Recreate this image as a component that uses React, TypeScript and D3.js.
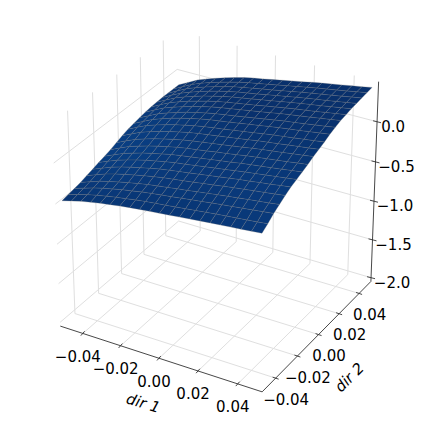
import React from "react";
import * as d3 from "d3";

const gridX = [-0.05,-0.045,-0.04,-0.035,-0.03,-0.025,-0.02,-0.015,-0.01,-0.005,0,0.005,0.01,0.015,0.02,0.025,0.03,0.035,0.04,0.045,0.05];
const gridY = gridX;
const zRows: number[][] = [
[-.47,-.438,-.407,-.383,-.361,-.342,-.324,-.308,-.294,-.282,-.27,-.257,-.245,-.232,-.219,-.207,-.196,-.185,-.174,-.162,-.15],
[-.455,-.419,-.386,-.359,-.335,-.313,-.295,-.276,-.26,-.247,-.234,-.22,-.206,-.192,-.178,-.164,-.152,-.139,-.127,-.114,-.1],
[-.44,-.401,-.363,-.333,-.307,-.282,-.261,-.24,-.222,-.207,-.192,-.176,-.16,-.145,-.128,-.113,-.099,-.085,-.07,-.055,-.04],
[-.425,-.383,-.342,-.31,-.281,-.255,-.232,-.21,-.191,-.175,-.158,-.142,-.124,-.108,-.09,-.074,-.058,-.043,-.027,-.012,.005],
[-.4,-.356,-.312,-.278,-.248,-.221,-.196,-.173,-.153,-.136,-.119,-.102,-.084,-.067,-.048,-.031,-.015,.001,.017,.033,.05],
[-.38,-.333,-.286,-.25,-.219,-.191,-.165,-.14,-.12,-.102,-.085,-.067,-.048,-.03,-.011,.007,.022,.039,.055,.073,.09],
[-.355,-.305,-.258,-.222,-.189,-.159,-.134,-.109,-.088,-.071,-.054,-.036,-.017,.001,.02,.037,.053,.069,.086,.102,.12],
[-.335,-.284,-.234,-.196,-.162,-.132,-.105,-.08,-.059,-.042,-.025,-.006,.012,.03,.05,.067,.083,.098,.115,.132,.15],
[-.31,-.257,-.205,-.167,-.132,-.101,-.074,-.049,-.028,-.011,.007,.026,.043,.062,.081,.099,.114,.13,.146,.163,.18],
[-.28,-.226,-.175,-.136,-.101,-.07,-.042,-.017,.004,.022,.04,.058,.076,.095,.115,.132,.148,.164,.181,.197,.215],
[-.25,-.195,-.142,-.102,-.066,-.035,-.008,.018,.039,.057,.074,.091,.11,.128,.147,.164,.179,.195,.212,.227,.245],
[-.225,-.17,-.116,-.076,-.04,-.009,.019,.045,.066,.084,.101,.119,.138,.156,.175,.193,.208,.224,.241,.257,.275],
[-.21,-.152,-.096,-.054,-.017,.016,.045,.072,.094,.112,.13,.149,.168,.187,.207,.225,.241,.257,.275,.292,.31],
[-.195,-.137,-.08,-.038,0,.034,.063,.091,.113,.132,.15,.17,.189,.209,.229,.248,.264,.281,.299,.317,.335],
[-.18,-.121,-.064,-.021,.017,.051,.081,.109,.132,.151,.17,.19,.21,.23,.251,.27,.287,.304,.323,.341,.36],
[-.17,-.111,-.053,-.01,.028,.062,.093,.121,.144,.163,.183,.203,.223,.243,.265,.284,.301,.318,.338,.356,.375],
[-.165,-.105,-.048,-.004,.035,.07,.1,.129,.153,.173,.193,.213,.234,.255,.277,.296,.314,.332,.352,.37,.39],
[-.16,-.1,-.042,.002,.041,.076,.107,.136,.16,.18,.2,.221,.242,.263,.285,.305,.323,.341,.361,.38,.4],
[-.16,-.1,-.041,.004,.043,.079,.11,.14,.164,.184,.205,.226,.248,.269,.292,.312,.331,.35,.37,.39,.41],
[-.16,-.099,-.04,.005,.045,.081,.113,.143,.168,.189,.21,.232,.254,.276,.299,.32,.339,.358,.379,.399,.42],
[-.16,-.099,-.039,.007,.047,.084,.116,.147,.172,.193,.215,.237,.26,.282,.306,.327,.347,.367,.388,.408,.43],
];
const xTicks = [-0.04,-0.02,0,0.02,0.04];
const yTicks = [-0.04,-0.02,0,0.02,0.04];
const zTicks = [-2,-1.5,-1,-0.5,0];
const xLim: [number, number] = [-0.0521, 0.0521];
const yLim: [number, number] = [-0.0521, 0.0521];
const zLim: [number, number] = [-2.05, 0.49];

const SIZE = 424, ELEV = 30, AZIM = -60, DIST = 10, SCALE = 233, BZ = 1.0, CX = 218, CY = 205;
const GRID = "#dfdfdf", AXIS = "#333333";
const fmt = (v: number, d: number) => v.toFixed(d).replace("-", "\u2212");
const sx = d3.scaleLinear().domain(xLim).range([-0.5, 0.5]);
const sy = d3.scaleLinear().domain(yLim).range([-0.5, 0.5]);
const sz = d3.scaleLinear().domain(zLim).range([-0.5 * BZ, 0.5 * BZ]);
const el = (ELEV * Math.PI) / 180, az = (AZIM * Math.PI) / 180;
const R = [-Math.sin(az), Math.cos(az), 0];
const U = [-Math.sin(el) * Math.cos(az), -Math.sin(el) * Math.sin(az), Math.cos(el)];
const N = [Math.cos(el) * Math.cos(az), Math.cos(el) * Math.sin(az), Math.sin(el)];
const dot = (a: number[], b: number[]) => a[0] * b[0] + a[1] * b[1] + a[2] * b[2];
function depth(x: number, y: number, z: number) { return DIST - dot([sx(x), sy(y), sz(z)], N); }
function proj(x: number, y: number, z: number): [number, number] {
  const p = [sx(x), sy(y), sz(z)];
  const d = DIST - dot(p, N);
  return [CX + (SCALE * DIST * dot(p, R)) / d, CY - (SCALE * DIST * dot(p, U)) / d];
}
const line = d3.line();
const shade = d3.scaleLinear<string>().domain([0.74, 0.93]).range(["#08306c", "#0a4f9c"]).clamp(true);
const WIN = 4;

function faces() {
  const out: { d: string; c: string; k: number }[] = [];
  const L = [-0.58, -0.58, 0.58];
  const last = gridX.length - 1;
  for (let j = 0; j < last; j++) for (let i = 0; i < last; i++) {
    const xa = gridX[i], xb = gridX[i + 1], ya = gridY[j], yb = gridY[j + 1];
    const q: [number, number, number][] = [[xa, ya, zRows[j][i]], [xb, ya, zRows[j][i + 1]], [xb, yb, zRows[j + 1][i + 1]], [xa, yb, zRows[j + 1][i]]];
    const i0 = Math.max(0, i - WIN), i1 = Math.min(last, i + 1 + WIN), j0 = Math.max(0, j - WIN), j1 = Math.min(last, j + 1 + WIN);
    const slopeX = (sz(zRows[j][i1]) - sz(zRows[j][i0])) / (sx(gridX[i1]) - sx(gridX[i0]));
    const slopeY = (sz(zRows[j1][i]) - sz(zRows[j0][i])) / (sy(gridY[j1]) - sy(gridY[j0]));
    const n = [-slopeX, -slopeY, 1];
    const s = dot(n, L) / Math.hypot(n[0], n[1], n[2]);
    out.push({ d: line(q.map((p) => proj(p[0], p[1], p[2])))! + "Z", c: shade(s), k: d3.mean(q, (p) => depth(p[0], p[1], p[2]))! });
  }
  return out.sort((a, b) => b.k - a.k);
}

export default function App() {
  const [x0, x1] = xLim, [y0, y1] = yLim, [z0, z1] = zLim;
  const seg = (a: [number, number], b: [number, number]) => line([a, b])!;
  const grid: string[] = [];
  xTicks.forEach((x) => { grid.push(seg(proj(x, y0, z0), proj(x, y1, z0))); grid.push(seg(proj(x, y1, z0), proj(x, y1, z1))); });
  yTicks.forEach((y) => { grid.push(seg(proj(x0, y, z0), proj(x1, y, z0))); grid.push(seg(proj(x0, y, z0), proj(x0, y, z1))); });
  zTicks.forEach((z) => { grid.push(seg(proj(x0, y0, z), proj(x0, y1, z))); grid.push(seg(proj(x0, y1, z), proj(x1, y1, z))); });
  const text = { fontFamily: "DejaVu Sans", fontSize: 15, fill: "#000", textAnchor: "middle" as const };
  return (
    <svg width={SIZE} height={SIZE} style={{ position: "absolute", left: 0, top: 0, background: "#fff" }}>
      <g fill="none" stroke={GRID} strokeWidth={1}>{grid.map((d, i) => <path key={i} d={d} />)}</g>
      <g stroke="#707070" strokeOpacity={0.5} strokeWidth={0.5}>{faces().map((f, i) => <path key={i} d={f.d} fill={f.c} />)}</g>
      <g fill="none" stroke={AXIS} strokeWidth={0.9}>
        <path d={seg(proj(x0, y0, z0), proj(x1, y0, z0))} />
        <path d={seg(proj(x1, y0, z0), proj(x1, y1, z0))} />
        <path d={seg(proj(x1, y1, z0), proj(x1, y1, z1))} />
        {xTicks.map((x) => { const [a, b] = proj(x, y0, z0); return <path key={x} d={`M${a - 2},${b + 2.2}L${a + 1.8},${b - 2.2}`} />; })}
        {yTicks.map((y) => { const [a, b] = proj(x1, y, z0); return <path key={y} d={`M${a - 3},${b - 1}L${a + 3},${b + 1}`} />; })}
        {zTicks.map((z) => { const [a, b] = proj(x1, y1, z); return <path key={z} d={`M${a - 4},${b - 1}L${a + 4},${b + 1}`} />; })}
      </g>
      {xTicks.map((x) => { const [a, b] = proj(x, y0, z0); return <text key={x} x={a - 5} y={b + 28.5} {...text}>{fmt(x, 2)}</text>; })}
      {yTicks.map((y) => { const [a, b] = proj(x1, y, z0); return <text key={y} x={a + 10.5} y={b + 26.7} {...text}>{fmt(y, 2)}</text>; })}
      {zTicks.map((z) => { const [a, b] = proj(x1, y1, z); return <text key={z} x={a + (z < 0 ? 21 : 16)} y={b + 10} {...text}>{fmt(z, 1)}</text>; })}
      <text {...text} fontStyle="italic" transform="translate(141.7,408) rotate(17)">dir 1</text>
      <text {...text} fontStyle="italic" transform="translate(353,381) rotate(-45)">dir 2</text>
    </svg>
  );
}
